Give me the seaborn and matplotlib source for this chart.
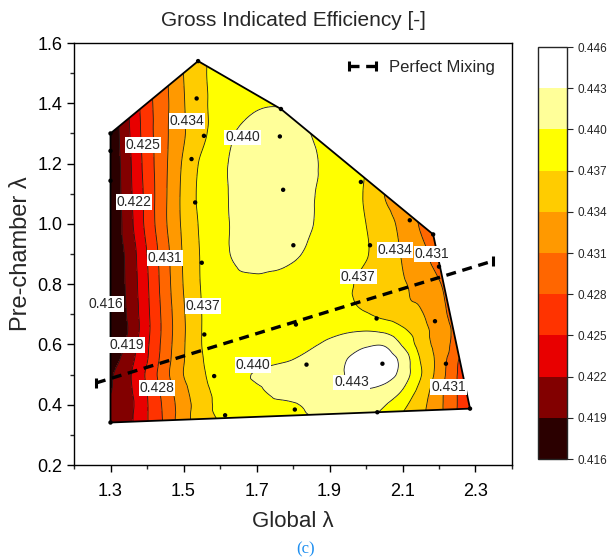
import numpy as np
import pandas as pd
import matplotlib
matplotlib.use("Agg")
import matplotlib.pyplot as plt
import matplotlib.tri as mtri
from matplotlib.colors import ListedColormap, BoundaryNorm
from matplotlib.patches import Polygon
from matplotlib.cm import ScalarMappable
import seaborn as sns

# ---------------- data ----------------
grid_global = [1.30, 1.35, 1.40, 1.45, 1.50, 1.55, 1.60, 1.70, 1.80, 1.90,
               2.00, 2.05, 2.10, 2.15, 2.20, 2.25, 2.30]
grid_prechamber = [0.30, 0.35, 0.40, 0.45, 0.50, 0.55, 0.60, 0.65, 0.70,
                   0.80, 0.90, 1.00, 1.10, 1.20, 1.30, 1.40, 1.50, 1.60]
# efficiency rows, one per pre-chamber lambda value (bottom to top)
eff_030 = [0.4195, 0.4212, 0.4247, 0.4283, 0.4318, 0.4345, 0.4365, 0.4380, 0.4386, 0.4390, 0.4388, 0.4375, 0.4355, 0.4340, 0.4315, 0.4277, 0.4245]
eff_035 = [0.4193, 0.4213, 0.4248, 0.4286, 0.4328, 0.4355, 0.4372, 0.4385, 0.4393, 0.4401, 0.4401, 0.4388, 0.4365, 0.4345, 0.4318, 0.4278, 0.4245]
eff_040 = [0.4195, 0.4211, 0.4248, 0.4288, 0.4327, 0.4355, 0.4378, 0.4390, 0.4398, 0.4412, 0.4416, 0.4402, 0.4378, 0.4350, 0.4318, 0.4280, 0.4245]
eff_045 = [0.4188, 0.4214, 0.4250, 0.4293, 0.4332, 0.4360, 0.4380, 0.4397, 0.4412, 0.4420, 0.4429, 0.4420, 0.4400, 0.4360, 0.4320, 0.4280, 0.4242]
eff_050 = [0.4185, 0.4215, 0.4255, 0.4300, 0.4340, 0.4365, 0.4385, 0.4402, 0.4412, 0.4418, 0.4446, 0.4446, 0.4418, 0.4372, 0.4327, 0.4280, 0.4245]
eff_055 = [0.4172, 0.4208, 0.4248, 0.4296, 0.4338, 0.4368, 0.4385, 0.4390, 0.4400, 0.4414, 0.4447, 0.4448, 0.4420, 0.4368, 0.4330, 0.4283, 0.4255]
eff_060 = [0.4165, 0.4198, 0.4245, 0.4293, 0.4337, 0.4370, 0.4385, 0.4385, 0.4392, 0.4404, 0.4425, 0.4427, 0.4397, 0.4357, 0.4328, 0.4298, 0.4270]
eff_065 = [0.4163, 0.4192, 0.4242, 0.4291, 0.4336, 0.4370, 0.4385, 0.4385, 0.4388, 0.4394, 0.4397, 0.4392, 0.4374, 0.4352, 0.4326, 0.4302, 0.4280]
eff_070 = [0.4162, 0.4195, 0.4243, 0.4292, 0.4337, 0.4370, 0.4385, 0.4387, 0.4387, 0.4383, 0.4372, 0.4362, 0.4352, 0.4343, 0.4320, 0.4298, 0.4280]
eff_080 = [0.4163, 0.4198, 0.4246, 0.4296, 0.4341, 0.4372, 0.4387, 0.4395, 0.4392, 0.4385, 0.4362, 0.4353, 0.4343, 0.4330, 0.4312, 0.4295, 0.4280]
eff_090 = [0.4163, 0.4200, 0.4250, 0.4299, 0.4343, 0.4373, 0.4393, 0.4410, 0.4403, 0.4388, 0.4372, 0.4355, 0.4338, 0.4318, 0.4298, 0.4285, 0.4275]
eff_100 = [0.4160, 0.4208, 0.4259, 0.4306, 0.4346, 0.4375, 0.4393, 0.4413, 0.4411, 0.4390, 0.4370, 0.4352, 0.4332, 0.4307, 0.4290, 0.4280, 0.4270]
eff_110 = [0.4162, 0.4211, 0.4260, 0.4306, 0.4347, 0.4378, 0.4394, 0.4415, 0.4413, 0.4390, 0.4367, 0.4340, 0.4320, 0.4300, 0.4285, 0.4275, 0.4265]
eff_120 = [0.4163, 0.4213, 0.4263, 0.4305, 0.4344, 0.4375, 0.4394, 0.4414, 0.4413, 0.4393, 0.4370, 0.4345, 0.4325, 0.4305, 0.4290, 0.4280, 0.4270]
eff_130 = [0.4165, 0.4217, 0.4266, 0.4304, 0.4337, 0.4362, 0.4388, 0.4410, 0.4407, 0.4390, 0.4370, 0.4350, 0.4330, 0.4310, 0.4295, 0.4285, 0.4275]
eff_140 = [0.4170, 0.4220, 0.4268, 0.4303, 0.4338, 0.4363, 0.4382, 0.4397, 0.4397, 0.4385, 0.4370, 0.4355, 0.4335, 0.4315, 0.4300, 0.4290, 0.4280]
eff_150 = [0.4175, 0.4222, 0.4270, 0.4305, 0.4340, 0.4365, 0.4380, 0.4390, 0.4390, 0.4382, 0.4370, 0.4355, 0.4335, 0.4315, 0.4300, 0.4290, 0.4280]
eff_160 = [0.4178, 0.4224, 0.4271, 0.4306, 0.4341, 0.4365, 0.4378, 0.4388, 0.4388, 0.4380, 0.4368, 0.4353, 0.4333, 0.4313, 0.4298, 0.4288, 0.4278]

# measured operating-map boundary
boundary_global = [1.30, 1.54, 1.767, 2.184, 2.285, 1.30]
boundary_prechamber = [1.30, 1.54, 1.381, 0.965, 0.387, 0.341]

# measurement points
points_global = [1.30, 1.54, 1.767, 2.184, 2.285, 1.30, 1.30, 1.30,
                 1.536, 1.556, 1.522, 1.532, 1.550, 1.764, 1.773, 1.801,
                 1.986, 2.120, 2.011, 2.200, 1.557, 1.808, 1.837, 1.584,
                 1.614, 1.805, 2.029, 2.189, 2.045, 2.219, 2.031]
points_prechamber = [1.30, 1.54, 1.381, 0.965, 0.387, 0.341, 1.242, 1.143,
                     1.416, 1.292, 1.215, 1.071, 0.871, 1.290, 1.113, 0.929,
                     1.139, 1.012, 0.929, 0.858, 0.633, 0.666, 0.533, 0.495,
                     0.365, 0.384, 0.686, 0.677, 0.536, 0.536, 0.375]

# perfect mixing line
mixing_global = [1.26, 2.348]
mixing_prechamber = [0.472, 0.877]

levels = [0.416, 0.419, 0.422, 0.425, 0.428, 0.431, 0.434, 0.437, 0.440, 0.443, 0.446]
level_colors = ["#2b0000", "#820000", "#e80000", "#ff3300", "#ff6600",
                "#ff9900", "#ffcc00", "#ffff00", "#ffff99", "#ffffff"]

# contour labels: (text, global, prechamber)
label_text = ["0.434", "0.440", "0.425", "0.422", "0.431", "0.416", "0.437", "0.419",
              "0.440", "0.428", "0.443", "0.437", "0.434", "0.431", "0.431"]
label_pos = [(1.510, 1.341), (1.662, 1.287), (1.389, 1.262), (1.364, 1.072),
             (1.449, 0.887), (1.288, 0.734), (1.553, 0.727), (1.345, 0.598),
             (1.690, 0.532), (1.427, 0.455), (1.960, 0.474), (1.979, 0.825),
             (2.080, 0.913), (2.181, 0.900), (2.226, 0.458)]

# ---------------- style ----------------
sns.set_style("ticks")
plt.rcParams["font.family"] = ["Liberation Sans", "DejaVu Sans"]
plt.rcParams["axes.linewidth"] = 1.0

fig = plt.figure(figsize=(6.12, 5.58), dpi=100)
ax = fig.add_axes([74 / 612, 1 - 465 / 558, (512 - 74) / 612, (465 - 43) / 558])
cax = fig.add_axes([538 / 612, 1 - 459 / 558, 29 / 612, (459 - 47) / 558])

cmap = ListedColormap(level_colors)
norm = BoundaryNorm(levels, cmap.N)

# ---------------- field ----------------
eff_rows = [eff_030, eff_035, eff_040, eff_045, eff_050, eff_055, eff_060, eff_065,
            eff_070, eff_080, eff_090, eff_100, eff_110, eff_120, eff_130, eff_140,
            eff_150, eff_160]
Z = np.array(eff_rows)
GX, GY = np.meshgrid(grid_global, grid_prechamber)
nx, ny = len(grid_global), len(grid_prechamber)
tris = []
for j in range(ny - 1):
    for i in range(nx - 1):
        a = j * nx + i
        b = a + 1
        c = a + nx
        d = c + 1
        tris.append([a, b, d])
        tris.append([a, d, c])
tri = mtri.Triangulation(GX.ravel(), GY.ravel(), np.array(tris))
interp = mtri.CubicTriInterpolator(tri, Z.ravel(), kind="geom")
refiner = mtri.UniformTriRefiner(tri)
tri_r, z_r = refiner.refine_field(Z.ravel(), triinterpolator=interp, subdiv=4)
z_r = np.clip(z_r, levels[0] + 1e-5, levels[-1] - 1e-5)

clip_poly = Polygon(np.column_stack([boundary_global, boundary_prechamber]),
                    closed=True, transform=ax.transData, facecolor="none", edgecolor="none")
ax.add_patch(clip_poly)
cf = ax.tricontourf(tri_r, z_r, levels=levels, cmap=cmap, norm=norm, zorder=1)
cl = ax.tricontour(tri_r, z_r, levels=levels[1:-1], colors="#1a1a1a",
                   linewidths=0.6, zorder=2)
cf.set_clip_path(clip_poly)
cl.set_clip_path(clip_poly)

ax.add_patch(Polygon(np.column_stack([boundary_global, boundary_prechamber]),
                     closed=True, fill=False, edgecolor="black", lw=1.3, zorder=3))

pts = pd.DataFrame({"g": points_global, "p": points_prechamber})
sns.scatterplot(data=pts, x="g", y="p", color="black", s=10, edgecolor="none",
                ax=ax, zorder=4, legend=False)

ax.plot(mixing_global, mixing_prechamber, color="black", lw=2.4, ls=(0, (3, 2)),
        marker="|", ms=7, mew=2.2, label="Perfect Mixing", zorder=5)

for t, (lx, ly) in zip(label_text, label_pos):
    ax.text(lx, ly, t, fontsize=10, ha="center", va="center", zorder=6,
            bbox=dict(facecolor="white", edgecolor="none", pad=0.6))

leg = ax.legend(loc="upper right", frameon=False, fontsize=12, numpoints=2,
                handlelength=2.2, borderaxespad=0.3, handletextpad=0.5,
                borderpad=0.7)

# ---------------- axes ----------------
ax.set_xlim(1.2, 2.4)
ax.set_ylim(0.2, 1.6)
ax.set_xticks([1.3, 1.5, 1.7, 1.9, 2.1, 2.3])
ax.set_xticks([1.2, 1.4, 1.6, 1.8, 2.0, 2.2, 2.4], minor=True)
ax.set_yticks([0.2, 0.4, 0.6, 0.8, 1.0, 1.2, 1.4, 1.6])
ax.set_yticks([0.3, 0.5, 0.7, 0.9, 1.1, 1.3, 1.5], minor=True)
ax.set_yticklabels(["0.2", "0.4", "0.6", "0.8", "1.0", "1.2", "1.4", "1.6"])
ax.tick_params(which="major", direction="out", length=5, width=1, labelsize=13, colors="black")
ax.tick_params(axis="x", which="major", pad=8)
ax.tick_params(which="minor", direction="out", length=3, width=1)
for s in ax.spines.values():
    s.set_visible(True)
    s.set_color("black")
ax.set_xlabel("Global λ", fontsize=16, labelpad=8)
ax.set_ylabel("Pre-chamber λ", fontsize=17, labelpad=4)
fig.text(293 / 612, 1 - 21 / 558, "Gross Indicated Efficiency [-]", fontsize=15,
         ha="center", va="center")

cb = fig.colorbar(ScalarMappable(norm=norm, cmap=cmap), cax=cax, ticks=levels)
cb.ax.set_yticklabels([f"{v:.3f}" for v in levels])
cb.ax.tick_params(labelsize=8.5, length=4, width=0.8, direction="out")
cb.outline.set_linewidth(1.0)

fig.text(306 / 612, 1 - 549 / 558, "(c)", color="#1f8ff0", fontsize=12,
         family=["Liberation Serif", "DejaVu Serif"], ha="center", va="center")

fig.savefig("out.png", dpi=100)
